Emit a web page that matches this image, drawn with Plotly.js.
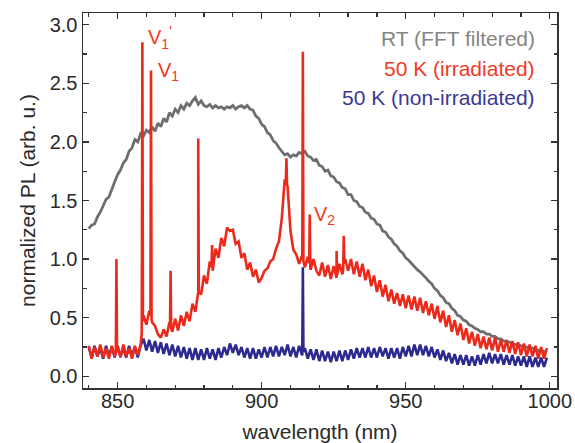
<!DOCTYPE html>
<html>
<head>
<meta charset="utf-8">
<script src="https://cdn.plot.ly/plotly-3.0.1.min.js"></script>
<style>
html,body{margin:0;padding:0;background:#fff;}
#chart{width:575px;height:443px;}
</style>
</head>
<body>
<div id="chart"></div>
<script>
// wavelength grid (nm)
const wavelength = [
840,841,842,843,844,845,846,847,848,849,850,851,852,853,854,855,856,857,858,859,
860,861,862,863,864,865,866,867,868,869,870,871,872,873,874,875,876,877,878,879,
880,881,882,883,884,885,886,887,888,889,890,891,892,893,894,895,896,897,898,899,
900,901,902,903,904,905,906,907,908,909,910,911,912,913,914,915,916,917,918,919,
920,921,922,923,924,925,926,927,928,929,930,931,932,933,934,935,936,937,938,939,
940,941,942,943,944,945,946,947,948,949,950,951,952,953,954,955,956,957,958,959,
960,961,962,963,964,965,966,967,968,969,970,971,972,973,974,975,976,977,978,979,
980,981,982,983,984,985,986,987,988,989,990,991,992,993,994,995,996,997,998,999];

// RT (FFT filtered)
const rtPL = [
1.26,1.29,1.30,1.36,1.40,1.46,1.51,1.53,1.60,1.66,1.72,1.76,1.82,1.85,1.92,1.95,2.02,2.00,2.07,2.05,
2.10,2.08,2.13,2.09,2.16,2.13,2.20,2.17,2.25,2.22,2.28,2.25,2.31,2.28,2.33,2.31,2.35,2.38,2.32,2.35,
2.31,2.30,2.32,2.29,2.31,2.29,2.30,2.28,2.30,2.29,2.31,2.28,2.30,2.31,2.29,2.31,2.28,2.27,2.22,2.20,
2.15,2.13,2.08,2.06,2.01,1.99,1.95,1.92,1.89,1.90,1.87,1.89,1.88,1.91,1.90,1.92,1.88,1.87,1.84,1.85,
1.80,1.79,1.75,1.76,1.71,1.70,1.66,1.65,1.61,1.60,1.55,1.55,1.50,1.49,1.45,1.44,1.40,1.39,1.35,1.34,
1.30,1.29,1.24,1.23,1.19,1.17,1.13,1.11,1.07,1.05,1.01,0.99,0.96,0.94,0.91,0.89,0.86,0.84,0.81,0.79,
0.75,0.73,0.69,0.67,0.63,0.62,0.58,0.56,0.52,0.51,0.48,0.47,0.44,0.43,0.41,0.40,0.38,0.38,0.36,0.36,
0.34,0.34,0.32,0.32,0.30,0.30,0.29,0.28,0.27,0.27,0.26,0.25,0.25,0.24,0.24,0.23,0.22,0.22,0.21,0.21];

// 50 K (irradiated), broad background
const irrPL = [
0.26,0.15,0.25,0.17,0.27,0.16,0.24,0.15,0.26,0.17,0.25,0.16,0.27,0.17,0.24,0.15,0.26,0.18,0.27,0.52,
0.44,0.56,0.46,0.43,0.36,0.33,0.40,0.34,0.46,0.38,0.49,0.39,0.52,0.43,0.55,0.47,0.62,0.55,0.72,0.70,
0.86,0.79,0.98,0.90,1.09,1.01,1.18,1.11,1.27,1.24,1.25,1.13,1.15,1.01,1.05,0.91,0.97,0.85,0.91,0.80,
0.84,0.90,0.92,0.98,1.00,1.09,1.15,1.35,1.68,1.62,1.24,1.08,1.04,0.96,1.03,0.93,1.02,0.91,1.00,0.90,
0.86,0.97,0.85,0.95,0.83,0.94,0.84,0.96,0.87,1.00,0.90,1.00,0.87,0.98,0.85,0.96,0.82,0.91,0.77,0.86,
0.72,0.82,0.68,0.78,0.64,0.74,0.62,0.71,0.60,0.70,0.58,0.69,0.57,0.68,0.56,0.67,0.54,0.64,0.52,0.62,
0.49,0.60,0.46,0.56,0.42,0.52,0.38,0.48,0.35,0.45,0.31,0.41,0.28,0.38,0.26,0.36,0.24,0.34,0.23,0.33,
0.22,0.33,0.21,0.31,0.21,0.31,0.20,0.30,0.19,0.29,0.18,0.28,0.17,0.27,0.17,0.26,0.15,0.25,0.15,0.24];
// sharp lines of the irradiated spectrum
const irrLineX = [849.6, 858.6, 861.6, 868.4, 878.0, 882.8, 908.6, 914.3, 916.7, 926.0, 928.5];
const irrLineY = [1.00, 2.85, 2.61, 0.90, 2.03, 1.12, 1.86, 2.77, 1.38, 1.07, 1.20];

// 50 K (non-irradiated)
const nonPL = [
0.25,0.16,0.26,0.17,0.24,0.15,0.26,0.17,0.25,0.16,0.26,0.17,0.24,0.16,0.26,0.17,0.25,0.16,0.26,0.32,
0.22,0.31,0.21,0.30,0.20,0.29,0.19,0.28,0.18,0.27,0.17,0.26,0.16,0.25,0.15,0.24,0.14,0.24,0.14,0.23,
0.14,0.24,0.15,0.23,0.14,0.24,0.16,0.25,0.18,0.28,0.20,0.27,0.18,0.25,0.16,0.24,0.15,0.24,0.15,0.23,
0.16,0.25,0.16,0.25,0.17,0.26,0.17,0.25,0.18,0.27,0.17,0.25,0.16,0.26,0.18,0.24,0.15,0.23,0.14,0.23,
0.13,0.22,0.13,0.21,0.12,0.21,0.13,0.22,0.13,0.22,0.14,0.23,0.15,0.24,0.16,0.24,0.16,0.25,0.16,0.24,
0.16,0.25,0.17,0.24,0.15,0.24,0.16,0.24,0.15,0.25,0.17,0.26,0.17,0.27,0.18,0.27,0.18,0.26,0.17,0.25,
0.16,0.23,0.14,0.22,0.13,0.20,0.11,0.19,0.10,0.18,0.10,0.18,0.09,0.17,0.09,0.18,0.10,0.19,0.11,0.20,
0.11,0.19,0.11,0.19,0.10,0.18,0.10,0.18,0.09,0.17,0.09,0.17,0.08,0.17,0.08,0.16,0.08,0.16,0.08,0.16];
const nonLineX = [914.3];
const nonLineY = [0.93];

const legendLabels = ['RT (FFT filtered)', '50 K (irradiated)', '50 K (non-irradiated)'];
const peakLabels = ["V<sub>1</sub><sup>'</sup>", 'V<sub>1</sub>', 'V<sub>2</sub>'];
const peakLabelX = [859.8, 863.2, 917.4];
const peakLabelY = [2.89, 2.60, 1.37];

function interp(xs, ys, x) {
  for (let i = 0; i < xs.length - 1; i++) {
    if (x >= xs[i] && x <= xs[i + 1]) {
      const t = (x - xs[i]) / (xs[i + 1] - xs[i]);
      return ys[i] + t * (ys[i + 1] - ys[i]);
    }
  }
  return ys[ys.length - 1];
}
function withLines(xs, ys, lx, ly, hw) {
  const pts = xs.map((x, i) => [x, ys[i]]);
  lx.forEach((s, k) => {
    pts.push([s - hw, interp(xs, ys, s - hw)], [s, ly[k]], [s + hw, interp(xs, ys, s + hw)]);
  });
  pts.sort((a, b) => a[0] - b[0]);
  return {x: pts.map(p => p[0]), y: pts.map(p => p[1])};
}

const irr = withLines(wavelength, irrPL, irrLineX, irrLineY, 0.2);
const non = withLines(wavelength, nonPL, nonLineX, nonLineY, 0.2);

const cGray = '#6e6e6e', cRed = '#ec2a1c', cBlue = '#2c2a8e';

const traces = [
  {x: wavelength, y: rtPL, mode: 'lines', line: {color: cGray, width: 2.8}, name: legendLabels[0]},
  {x: non.x, y: non.y, mode: 'lines', line: {color: cBlue, width: 2.6}, name: legendLabels[2]},
  {x: irr.x, y: irr.y, mode: 'lines', line: {color: cRed, width: 2.6}, name: legendLabels[1]}
];

const legendColors = ['#858585', '#f03a26', '#3b3994'];
const legendY = [2.88, 2.63, 2.38];
const annotations = [];
legendLabels.forEach((t, i) => annotations.push({
  x: 995.5, y: legendY[i], xref: 'x', yref: 'y', text: t, showarrow: false,
  xanchor: 'right', yanchor: 'middle', font: {size: 21, color: legendColors[i]}
}));
peakLabels.forEach((t, i) => annotations.push({
  x: peakLabelX[i], y: peakLabelY[i], xref: 'x', yref: 'y', text: t, showarrow: false,
  xanchor: 'left', yanchor: 'middle', font: {size: 20, color: '#f03a26'}
}));

const axisCommon = {
  showline: true, linecolor: '#333', linewidth: 1.5, mirror: 'allticks',
  ticks: 'inside', ticklen: 6, tickwidth: 1.3, tickcolor: '#333',
  showgrid: false, zeroline: false,
  tickfont: {size: 20, color: '#2a2a2a'}
};

const layout = {
  width: 575, height: 443,
  margin: {l: 83, r: 18, t: 13, b: 55},
  paper_bgcolor: '#fff', plot_bgcolor: '#fff',
  font: {family: 'Liberation Sans, Arial, sans-serif', color: '#2a2a2a'},
  showlegend: false,
  xaxis: Object.assign({}, axisCommon, {
    range: [838, 1002.5], tickvals: [850, 900, 950, 1000],
    ticklabelstandoff: -6,
    minor: {dtick: 10, tick0: 840, ticklen: 3.5, ticks: 'inside', tickcolor: '#333', tickwidth: 1.2},
    title: {text: 'wavelength (nm)', font: {size: 21}, standoff: 14}
  }),
  yaxis: Object.assign({}, axisCommon, {
    range: [-0.1, 3.1], tickvals: [0, 0.5, 1, 1.5, 2, 2.5, 3], tickformat: '.1f',
    minor: {dtick: 0.25, tick0: 0, ticklen: 3.5, ticks: 'inside', tickcolor: '#333', tickwidth: 1.2},
    title: {text: 'normalized PL (arb. u.)', font: {size: 21}, standoff: 8}
  }),
  annotations: annotations
};

Plotly.newPlot('chart', traces, layout, {displayModeBar: false, staticPlot: true});
</script>
</body>
</html>
